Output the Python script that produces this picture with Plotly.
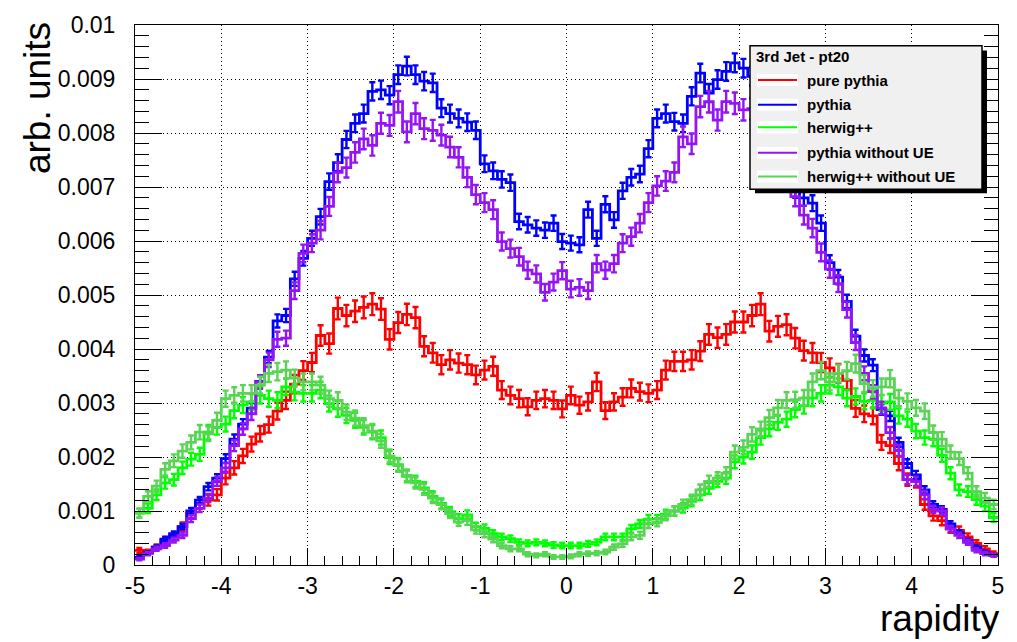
import numpy as np
import plotly.graph_objects as go

# ---------------- data (bin contents in units of 1e-3, 100 bins of width 0.1 from -5 to 5) ----
bin_lo, bin_hi, n_bins = -5.0, 5.0, 100
scale = 1e-3

names = ["pure pythia", "pythia", "herwig++", "pythia without UE", "herwig++ without UE"]
colors = ["#ff0000", "#0000ff", "#00ff00", "#9414f5", "#59d454"]
err_k = [0.092, 0.057, 0.085, 0.068, 0.085]   # relative statistical error factor (err = k*sqrt(v))

pure_pythia = [
    0.27, 0.24, 0.33, 0.46, 0.52, 0.71, 0.96, 1.14, 1.20, 1.30,
    1.61, 1.80, 2.02, 2.24, 2.43, 2.60, 2.85, 3.05, 3.35, 3.60,
    3.75, 4.25, 4.10, 4.75, 4.62, 4.70, 4.77, 4.83, 4.74, 4.18,
    4.49, 4.64, 4.58, 4.05, 3.93, 3.71, 3.80, 3.74, 3.71, 3.52,
    3.61, 3.68, 3.24, 3.14, 3.08, 2.93, 3.05, 3.08, 3.05, 2.89,
    3.14, 2.96, 3.02, 3.39, 2.86, 3.02, 3.11, 3.27, 3.21, 3.18,
    3.24, 3.61, 3.77, 3.77, 3.80, 3.96, 4.27, 4.21, 4.27, 4.50,
    4.50, 4.62, 4.83, 4.33, 4.42, 4.45, 4.20, 3.97, 3.93, 3.75,
    3.65, 3.55, 3.42, 2.90, 2.80, 2.76, 2.27, 2.21, 1.88, 1.58,
    1.55, 1.12, 0.91, 0.82, 0.67, 0.64, 0.52, 0.40, 0.30, 0.21,
]
pythia = [
    0.14, 0.23, 0.33, 0.48, 0.58, 0.71, 1.00, 1.20, 1.45, 1.61,
    1.97, 2.33, 2.61, 2.90, 3.40, 3.85, 4.52, 4.62, 5.30, 5.68,
    6.05, 6.45, 7.10, 7.45, 7.88, 8.18, 8.36, 8.77, 8.80, 8.70,
    9.08, 9.24, 9.08, 8.96, 8.93, 8.46, 8.36, 8.27, 8.20, 8.05,
    7.43, 7.30, 7.14, 7.08, 6.36, 6.30, 6.24, 6.20, 6.33, 5.99,
    5.96, 5.93, 6.58, 6.05, 6.68, 6.39, 6.93, 7.18, 7.24, 7.71,
    8.27, 8.36, 8.21, 8.18, 8.68, 9.11, 8.74, 8.99, 9.14, 9.30,
    9.20, 9.05, 8.80, 8.50, 8.10, 7.60, 6.95, 6.80, 6.70, 6.33,
    5.60, 5.33, 4.88, 4.24, 3.88, 3.70, 2.88, 2.76, 2.27, 1.88,
    1.67, 1.39, 1.12, 1.03, 0.76, 0.60, 0.45, 0.33, 0.24, 0.18,
]
herwig = [
    0.96, 1.05, 1.30, 1.52, 1.58, 1.80, 1.96, 2.05, 2.46, 2.55,
    2.61, 2.86, 2.96, 3.02, 3.14, 3.08, 3.05, 3.30, 3.20, 3.18,
    3.18, 3.24, 2.99, 2.89, 2.77, 2.68, 2.55, 2.46, 2.36, 1.99,
    1.86, 1.64, 1.55, 1.43, 1.27, 1.14, 0.99, 0.86, 0.93, 0.71,
    0.68, 0.58, 0.52, 0.49, 0.42, 0.40, 0.42, 0.40, 0.37, 0.36,
    0.36, 0.36, 0.39, 0.42, 0.52, 0.52, 0.52, 0.67, 0.76, 0.85,
    0.85, 0.94, 1.00, 1.06, 1.18, 1.30, 1.42, 1.55, 1.61, 1.91,
    2.00, 2.09, 2.36, 2.52, 2.64, 2.70, 2.88, 2.95, 3.09, 3.18,
    3.33, 3.30, 3.09, 3.12, 3.03, 3.05, 3.00, 3.02, 2.76, 2.70,
    2.48, 2.36, 2.33, 2.03, 1.70, 1.39, 1.36, 1.21, 1.09, 0.88,
]
pythia_noUE = [
    0.11, 0.21, 0.30, 0.36, 0.46, 0.55, 0.86, 1.05, 1.24, 1.55,
    1.80, 2.21, 2.52, 2.80, 3.39, 3.80, 4.18, 4.20, 5.08, 5.77,
    5.96, 6.20, 6.64, 7.27, 7.36, 7.64, 7.89, 7.77, 8.18, 8.14,
    8.58, 8.02, 8.36, 8.08, 8.05, 7.96, 7.74, 7.55, 7.18, 6.86,
    6.71, 6.58, 5.99, 5.86, 5.71, 5.46, 5.39, 5.05, 5.24, 5.45,
    5.11, 5.14, 5.08, 5.58, 5.46, 5.58, 5.96, 6.08, 6.33, 6.71,
    7.02, 7.11, 7.27, 7.93, 7.80, 8.49, 8.58, 8.24, 8.58, 8.55,
    8.43, 8.45, 8.25, 7.95, 7.60, 7.20, 6.82, 6.48, 6.24, 5.79,
    5.48, 5.21, 4.73, 4.12, 3.55, 3.21, 2.91, 2.45, 2.12, 1.58,
    1.55, 1.30, 1.03, 1.00, 0.67, 0.55, 0.42, 0.27, 0.21, 0.18,
]
herwig_noUE = [
    0.96, 1.27, 1.46, 1.77, 1.93, 2.11, 2.27, 2.46, 2.43, 2.68,
    3.08, 3.14, 3.18, 3.18, 3.33, 3.55, 3.58, 3.61, 3.46, 3.39,
    3.39, 3.33, 3.08, 3.05, 2.83, 2.72, 2.58, 2.48, 2.30, 2.02,
    1.84, 1.66, 1.52, 1.40, 1.24, 1.12, 0.95, 0.80, 0.82, 0.65,
    0.58, 0.48, 0.36, 0.30, 0.30, 0.20, 0.18, 0.20, 0.15, 0.15,
    0.16, 0.20, 0.21, 0.22, 0.24, 0.33, 0.39, 0.52, 0.55, 0.76,
    0.79, 0.91, 1.00, 1.12, 1.21, 1.39, 1.55, 1.61, 1.70, 2.09,
    2.18, 2.42, 2.52, 2.73, 2.91, 3.05, 3.06, 3.09, 3.39, 3.60,
    3.39, 3.55, 3.60, 3.73, 3.36, 3.27, 3.30, 3.45, 3.09, 3.03,
    2.91, 2.85, 2.45, 2.33, 2.09, 1.97, 1.70, 1.36, 1.24, 1.12,
]
series = [pure_pythia, pythia, herwig, pythia_noUE, herwig_noUE]

y_tickvals = [0, 0.001, 0.002, 0.003, 0.004, 0.005, 0.006, 0.007, 0.008, 0.009, 0.01]
y_ticktext = ["0", "0.001", "0.002", "0.003", "0.004", "0.005", "0.006", "0.007", "0.008", "0.009", "0.01"]
x_tickvals = [-5, -4, -3, -2, -1, 0, 1, 2, 3, 4, 5]
x_ticktext = ["-5", "-4", "-3", "-2", "-1", "0", "1", "2", "3", "4", "5"]
legend_title = "3rd Jet - pt20"

# ---------------- figure ----------------
W, H = 1017, 642
L, R, T, B = 135, 19, 16, 77
pw, ph = W - L - R, H - T - B
FONT = "Liberation Sans, Arial, Helvetica, sans-serif"

def px_x(p):  # pixel -> paper
    return (p - L) / pw

def px_y(p):
    return (H - B - p) / ph

bw = (bin_hi - bin_lo) / n_bins
centers = bin_lo + bw * (np.arange(n_bins) + 0.5)

fig = go.Figure()
for name, col, k, vals in zip(names, colors, err_k, series):
    v = np.array(vals) * scale
    err = k * np.sqrt(np.array(vals)) * scale
    xs = np.concatenate([[bin_lo], centers, [bin_hi]])
    ys = np.concatenate([[v[0]], v, [v[-1]]])
    fig.add_trace(go.Scatter(x=xs, y=ys, mode="lines", line=dict(color=col, width=2.8, shape="hvh"),
                             name=name, showlegend=False, hoverinfo="skip"))
    fig.add_trace(go.Scatter(x=centers, y=v, mode="markers", marker=dict(color=col, size=2),
                             error_y=dict(type="data", array=err, color=col, thickness=2.4, width=3),
                             showlegend=False, name=name))

fig.update_layout(
    width=W, height=H, margin=dict(l=L, r=R, t=T, b=B),
    paper_bgcolor="white", plot_bgcolor="white",
    font=dict(family=FONT, color="black"),
    showlegend=False,
)
fig.update_xaxes(range=[bin_lo, bin_hi], tickvals=x_tickvals, ticktext=x_ticktext,
                 ticks="inside", ticklen=17, tickwidth=1, tickcolor="black",
                 minor=dict(dtick=0.2, ticks="inside", ticklen=9, tickcolor="black", showgrid=False),
                 showline=True, linecolor="black", linewidth=1, mirror=True,
                 showgrid=True, gridcolor="black", griddash="1px,3px", gridwidth=1,
                 zeroline=False, tickfont=dict(size=23, family=FONT), ticklabelstandoff=0)
fig.update_yaxes(range=[0, 0.01], tickvals=y_tickvals, ticktext=y_ticktext,
                 ticks="inside", ticklen=27, tickwidth=1, tickcolor="black",
                 minor=dict(dtick=0.0002, ticks="inside", ticklen=14, tickcolor="black", showgrid=False),
                 showline=True, linecolor="black", linewidth=1, mirror="ticks",
                 showgrid=True, gridcolor="black", griddash="1px,3px", gridwidth=1,
                 zeroline=False, tickfont=dict(size=23, family=FONT), ticklabelstandoff=14)

# axis titles
fig.add_annotation(text="arb. units", xref="paper", yref="paper", x=px_x(37), y=px_y(11),
                   xanchor="center", yanchor="top", textangle=-90, showarrow=False,
                   font=dict(size=37, family=FONT))
fig.add_annotation(text="rapidity", xref="paper", yref="paper", x=px_x(1001), y=px_y(641),
                   xanchor="right", yanchor="bottom", showarrow=False, borderpad=0,
                   font=dict(size=37, family=FONT))

# legend box (ROOT TLegend style with shadow)
bx0, bx1, by0, by1 = 750, 982, 37, 183
fig.add_shape(type="rect", xref="paper", yref="paper", x0=px_x(bx0 + 5), x1=px_x(bx1 + 5),
              y0=px_y(by0 + 5), y1=px_y(by1 + 4), fillcolor="black", line=dict(width=0), layer="above")
fig.add_shape(type="rect", xref="paper", yref="paper", x0=px_x(bx0), x1=px_x(bx1),
              y0=px_y(by0), y1=px_y(by1), fillcolor="#f0f0f0", line=dict(color="black", width=1.5),
              layer="above")
fig.add_annotation(text="<b>" + legend_title + "</b>", xref="paper", yref="paper",
                   x=px_x(754), y=px_y(48), xanchor="left", yanchor="middle", showarrow=False,
                   font=dict(size=15, family=FONT))
entry_y = [72, 97, 120, 146, 170]
for name, col, ey in zip(names, colors, entry_y):
    fig.add_shape(type="rect", xref="paper", yref="paper", x0=px_x(757), x1=px_x(798),
                  y0=px_y(ey - 6), y1=px_y(ey + 6), fillcolor="white", line=dict(width=0), layer="above")
    fig.add_shape(type="line", xref="paper", yref="paper", x0=px_x(758), x1=px_x(797),
                  y0=px_y(ey), y1=px_y(ey), line=dict(color=col, width=2), layer="above")
    fig.add_annotation(text="<b>" + name + "</b>", xref="paper", yref="paper",
                       x=px_x(805), y=px_y(ey), xanchor="left", yanchor="middle", showarrow=False,
                       font=dict(size=15, family=FONT))

fig.write_html("out.html")
